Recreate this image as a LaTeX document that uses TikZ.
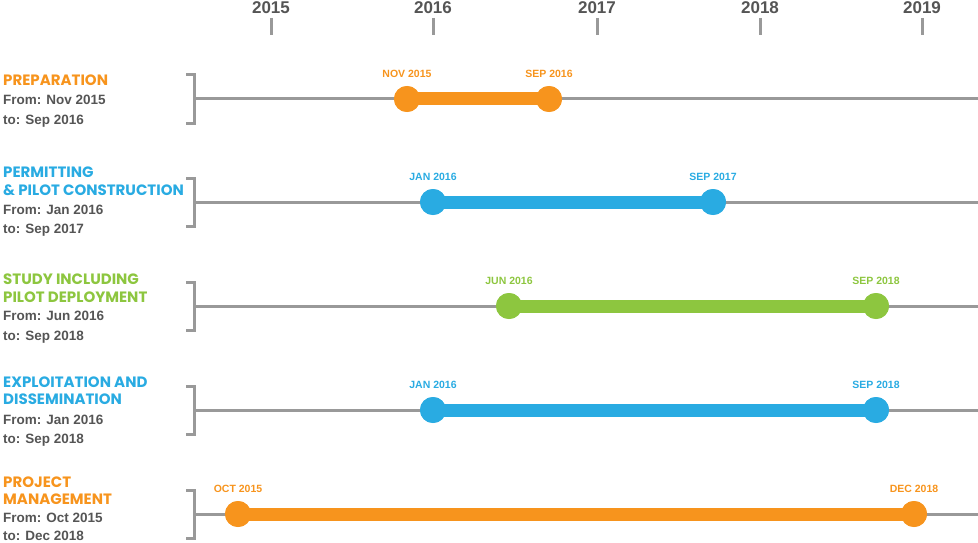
\documentclass[tikz,border=0pt]{standalone}
\usepackage{fontspec}
\setmainfont{Liberation Sans}
\newfontfamily\ttlfont{Poppins}
\definecolor{org}{HTML}{F7941D}
\definecolor{blu}{HTML}{29ABE2}
\definecolor{grn}{HTML}{8DC63F}
\definecolor{txt}{HTML}{555555}
\definecolor{lin}{HTML}{999999}
\begin{document}
\begin{tikzpicture}[x=1pt,y=-1pt,
  yr/.style={font=\bfseries\fontsize{17}{17}\selectfont,text=txt},
  tick/.style={draw=lin,line width=3pt},
  axis/.style={draw=lin,line width=3pt},
  dot/.style={circle,fill=#1,minimum size=26pt,inner sep=0pt},
  bar/.style={draw=#1,line width=13pt},
  dl/.style={font=\bfseries\fontsize{10.5}{10.5}\selectfont,text=#1},
  ttl/.style={font=\ttlfont\bfseries\fontsize{15}{15}\selectfont,text=#1,anchor=west,inner sep=0pt},
  sub/.style={font=\bfseries\fontsize{13.5}{13.5}\selectfont,text=txt,anchor=west,inner sep=0pt}]
\useasboundingbox (0,0) rectangle (978,543);
\foreach \x/\y in {271/2015,433/2016,597/2017,760/2018,922/2019}{
  \node[yr] (y\y) at (\x,8) {\y};
  \draw[tick] (\x,18) -- (\x,35);
}
\newcommand\rowx[8]{%
  \draw[axis] (186,#1-24) -- (194,#1-24) -- (194,#1+24) -- (186,#1+24);
  \coordinate (#7s) at (194,#1); \coordinate (#7e) at (978,#1);
  \draw[axis] (#7s) -- (#7e);
  \node[dot=#4] (#7a) at (#2,#1) {};
  \node[dot=#4] (#7b) at (#3,#1) {};
  \draw[bar=#4] (#7a.center) -- (#7b.center);
  \node[dot=#4] at (#7a) {}; \node[dot=#4] at (#7b) {};
  \node[dl=#4] at (#2,#1-25) {#5};
  \node[dl=#4] at (#3,#1-25) {#6};
}
\rowx{99}{407}{549}{org}{NOV 2015}{SEP 2016}{r1}{}
\rowx{202}{433}{713}{blu}{JAN 2016}{SEP 2017}{r2}{}
\rowx{306}{509}{876}{grn}{JUN 2016}{SEP 2018}{r3}{}
\rowx{410}{433}{876}{blu}{JAN 2016}{SEP 2018}{r4}{}
\rowx{514}{238}{914}{org}{OCT 2015}{DEC 2018}{r5}{}
\node[ttl=org] (t1) at (3,80) {PREPARATION};
\node[sub] (f1) at (3,100) {From: Nov 2015};
\node[sub] (g1) at (3,121) {to: Sep 2016};
\node[ttl=blu] (t2) at (3,172) {PERMITTING};
\node[ttl=blu] (t2b) at (3,190) {\& PILOT CONSTRUCTION};
\node[sub] (f2) at (3,210) {From: Jan 2016};
\node[sub] (g2) at (3,230) {to: Sep 2017};
\node[ttl=grn] (t3) at (3,279) {STUDY INCLUDING};
\node[ttl=grn] (t3b) at (3,297) {PILOT DEPLOYMENT};
\node[sub] (f3) at (3,316) {From: Jun 2016};
\node[sub] (g3) at (3,337) {to: Sep 2018};
\node[ttl=blu] (t4) at (3,382) {EXPLOITATION AND};
\node[ttl=blu] (t4b) at (3,399) {DISSEMINATION};
\node[sub] (f4) at (3,420) {From: Jan 2016};
\node[sub] (g4) at (3,440) {to: Sep 2018};
\node[ttl=org] (t5) at (3,482) {PROJECT};
\node[ttl=org] (t5b) at (3,499) {MANAGEMENT};
\node[sub] (f5) at (3,518) {From: Oct 2015};
\node[sub] (g5) at (3,536) {to: Dec 2018};
\end{tikzpicture}
\end{document}
